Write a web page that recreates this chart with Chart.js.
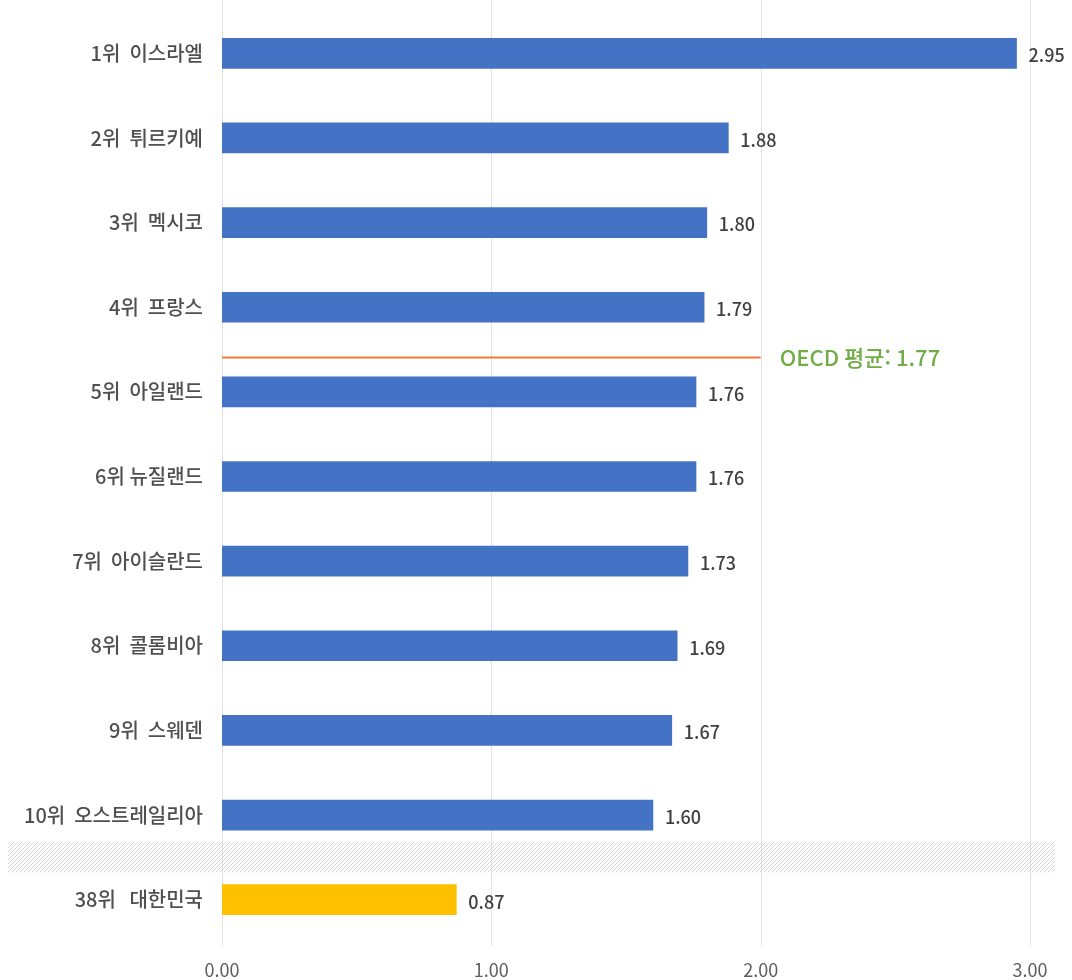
<!DOCTYPE html>
<html lang="ko">
<head>
<meta charset="utf-8">
<script src="https://cdn.jsdelivr.net/npm/chart.js@4.4.1/dist/chart.umd.min.js"></script>
<style>
  body { margin: 0; background: #fff; }
  #wrap { width: 1072px; height: 980px; position: relative; }
</style>
</head>
<body>
<div id="wrap"><canvas id="rankChart"></canvas></div>
<script>
// data
const countries = ['1위  이스라엘', '2위  튀르키예', '3위  멕시코', '4위  프랑스', '5위  아일랜드',
  '6위 뉴질랜드', '7위  아이슬란드', '8위  콜롬비아', '9위  스웨덴', '10위  오스트레일리아', '38위   대한민국'];
const values = [2.95, 1.88, 1.80, 1.79, 1.76, 1.76, 1.73, 1.69, 1.67, 1.60, 0.87];
const barColors = ['#4472C4', '#4472C4', '#4472C4', '#4472C4', '#4472C4', '#4472C4',
  '#4472C4', '#4472C4', '#4472C4', '#4472C4', '#FFC000'];
const xTicks = [0, 1, 2, 3];
const oecdAvg = 1.77;
const oecdLabel = 'OECD 평균: 1.77';

const fontFamily = '"Noto Sans CJK KR", "Noto Sans", sans-serif';

// diagonal hatch for the gap between 10위 and 38위
const makeHatch = () => {
    const c = document.createElement('canvas');
    c.width = 4; c.height = 4;
    const g = c.getContext('2d');
    g.strokeStyle = '#d4d4d4';
    g.lineWidth = 1;
    g.beginPath();
    g.moveTo(0, 4); g.lineTo(4, 0);
    g.moveTo(-1, 1); g.lineTo(1, -1);
    g.moveTo(3, 5); g.lineTo(5, 3);
    g.stroke();
    return c;
};

const gridPlugin = {
    id: 'gridLines',
    beforeDatasetsDraw(chart) {
        const { ctx, scales: { x } } = chart;
        ctx.save();
        ctx.strokeStyle = '#e3e3e3';
        ctx.lineWidth = 1;
        xTicks.forEach(t => {
            const px = Math.round(x.getPixelForValue(t)) + 0.5;
            ctx.beginPath();
            ctx.moveTo(px, 0);
            ctx.lineTo(px, chart.chartArea.bottom + 4);
            ctx.stroke();
        });
        ctx.restore();
    }
};

const extrasPlugin = {
    id: 'extras',
    afterDatasetsDraw(chart) {
        const { ctx, scales: { x, y } } = chart;
        const meta = chart.getDatasetMeta(0);
        ctx.save();

        // value labels
        ctx.font = '500 18px ' + fontFamily;
        ctx.fillStyle = '#404040';
        ctx.textAlign = 'left';
        ctx.textBaseline = 'middle';
        meta.data.forEach((bar, i) => {
            ctx.fillText(values[i].toFixed(2), bar.x + 12, bar.y + 2);
        });

        // OECD average line between 4위 and 5위
        const step = y.getPixelForValue(1) - y.getPixelForValue(0);
        const ly = Math.round(y.getPixelForValue(3) + step * 0.59) + 0.5;
        ctx.strokeStyle = '#ED7D31';
        ctx.lineWidth = 2;
        ctx.beginPath();
        ctx.moveTo(x.getPixelForValue(0), ly);
        ctx.lineTo(x.getPixelForValue(2), ly);
        ctx.stroke();
        ctx.font = '500 22px ' + fontFamily;
        ctx.fillStyle = '#70AD47';
        ctx.fillText(oecdLabel, x.getPixelForValue(2) + 19, ly);

        // hatched break band
        const by = (y.getPixelForValue(9) + y.getPixelForValue(10)) / 2;
        ctx.fillStyle = ctx.createPattern(makeHatch(), 'repeat');
        ctx.fillRect(8, by - 15, 1047, 30);

        ctx.restore();
    }
};

new Chart(document.getElementById('rankChart'), {
    type: 'bar',
    data: {
        labels: countries,
        datasets: [{
            data: values,
            backgroundColor: barColors,
            barThickness: 30
        }]
    },
    options: {
        indexAxis: 'y',
        responsive: true,
        maintainAspectRatio: false,
        animation: false,
        layout: { padding: { top: 11, right: 42, bottom: 0, left: 0 } },
        plugins: { legend: { display: false }, tooltip: { enabled: false } },
        scales: {
            x: {
                min: 0,
                max: 3,
                afterBuildTicks: s => { s.ticks = xTicks.map(v => ({ value: v })); },
                afterFit: s => { s.height = 38; },
                grid: { display: false, drawTicks: false },
                border: { display: false },
                ticks: {
                    padding: 17,
                    color: '#5f5f5f',
                    font: { family: fontFamily, size: 18 },
                    callback: v => Number(v).toFixed(2)
                }
            },
            y: {
                afterFit: s => { s.width = 222; s.paddingTop = 0; s.paddingBottom = 0; },
                grid: { display: false, drawTicks: false },
                border: { display: false },
                ticks: {
                    padding: 19,
                    color: '#505050',
                    font: { family: fontFamily, size: 20, weight: '500' }
                }
            }
        }
    },
    plugins: [gridPlugin, extrasPlugin]
});
</script>
</body>
</html>
